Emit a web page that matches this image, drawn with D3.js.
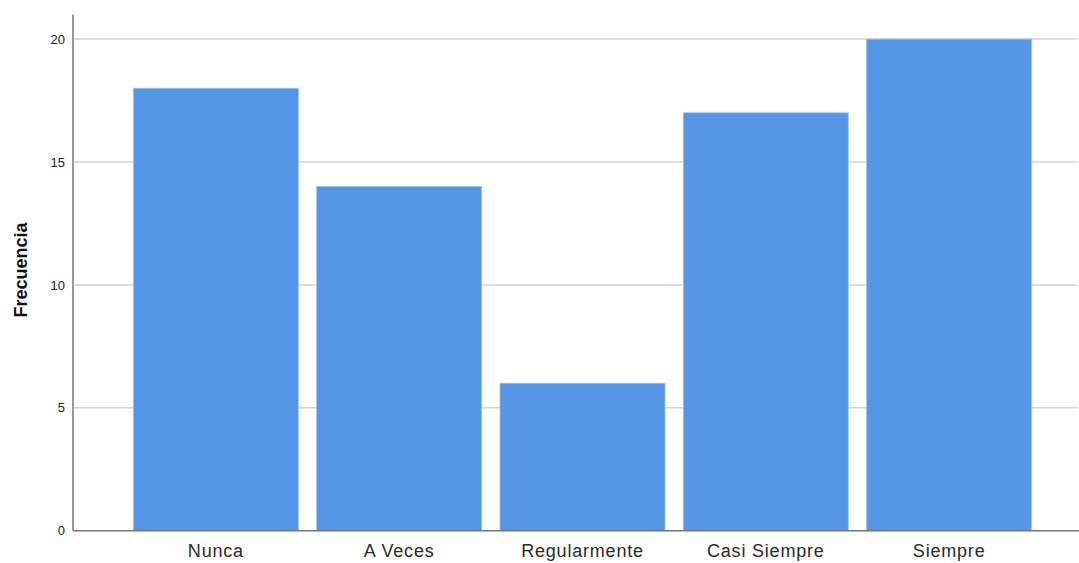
<!DOCTYPE html>
<html>
<head>
<meta charset="utf-8">
<script src="https://cdn.jsdelivr.net/npm/d3@7"></script>
<style>
  body { margin: 0; background: #fff; }
  svg { display: block; font-family: "Liberation Sans", Arial, sans-serif; }
</style>
</head>
<body>
<div id="chart"></div>
<script>
'use strict'

var width = 1079;
var height = 563;

// data
var categories = ['Nunca', 'A Veces', 'Regularmente', 'Casi Siempre', 'Siempre'];
var frequencies = [18, 14, 6, 17, 20];
var yTicks = [0, 5, 10, 15, 20];
var yLabel = 'Frecuencia';

var svg = d3.select('#chart').append('svg')
  .attr('width', width)
  .attr('height', height);

var xScale = d3.scaleBand()
  .domain(categories)
  .range([124.2, 1040.8])
  .paddingInner(0.1)
  .paddingOuter(0.05);

var yScale = d3.scaleLinear()
  .domain([0, 21])
  .range([530.7, 14.5]);

var plotLeft = 73;
var plotRight = 1079;

//gridlines

svg.append('g')
  .selectAll('line')
  .data(yTicks.filter(function(d){ return d > 0; }))
  .enter().append('line')
    .attr('x1', plotLeft)
    .attr('x2', plotRight - 1)
    .attr('y1', function(d){ return yScale(d); })
    .attr('y2', function(d){ return yScale(d); })
    .attr('stroke', '#d4d4d4')
    .attr('stroke-width', 1.5);

//bars

svg.append('g')
  .selectAll('rect')
  .data(categories)
  .enter().append('rect')
    .attr('x', function(d){ return xScale(d); })
    .attr('y', function(d, i){ return yScale(frequencies[i]); })
    .attr('width', xScale.bandwidth())
    .attr('height', function(d, i){ return yScale(0) - yScale(frequencies[i]); })
    .attr('fill', '#5596e6')
    .attr('stroke', '#9cc2f0')
    .attr('stroke-width', 0.8);

//y axis

var yAxis = d3.axisLeft(yScale)
  .tickValues(yTicks)
  .tickSize(0)
  .tickPadding(8);

var gy = svg.append('g')
  .attr('transform', 'translate(' + plotLeft + ',0)')
  .call(yAxis);

gy.select('.domain').remove();
gy.selectAll('text')
  .attr('font-size', 13)
  .attr('font-family', '"Liberation Sans", Arial, sans-serif')
  .attr('fill', '#222');

svg.append('line')
  .attr('x1', plotLeft).attr('x2', plotLeft)
  .attr('y1', yScale(21)).attr('y2', yScale(0))
  .attr('stroke', '#777')
  .attr('stroke-width', 1.5);

//x axis

var xAxis = d3.axisBottom(xScale)
  .tickSize(0)
  .tickPadding(14);

var gx = svg.append('g')
  .attr('transform', 'translate(0,' + yScale(0) + ')')
  .call(xAxis);

gx.select('.domain').remove();
gx.selectAll('text')
  .attr('font-size', 18)
  .attr('letter-spacing', '0.8px')
  .attr('font-family', '"Liberation Sans", Arial, sans-serif')
  .attr('fill', '#2a2a2a');

svg.append('line')
  .attr('x1', plotLeft).attr('x2', plotRight)
  .attr('y1', yScale(0)).attr('y2', yScale(0))
  .attr('stroke', '#777')
  .attr('stroke-width', 1.5);

//y axis title

svg.append('text')
  .attr('transform', 'translate(27,' + 270 + ') rotate(-90)')
  .attr('text-anchor', 'middle')
  .attr('font-size', 18)
  .attr('font-weight', 'bold')
  .attr('fill', '#111')
  .text(yLabel);
</script>
</body>
</html>
